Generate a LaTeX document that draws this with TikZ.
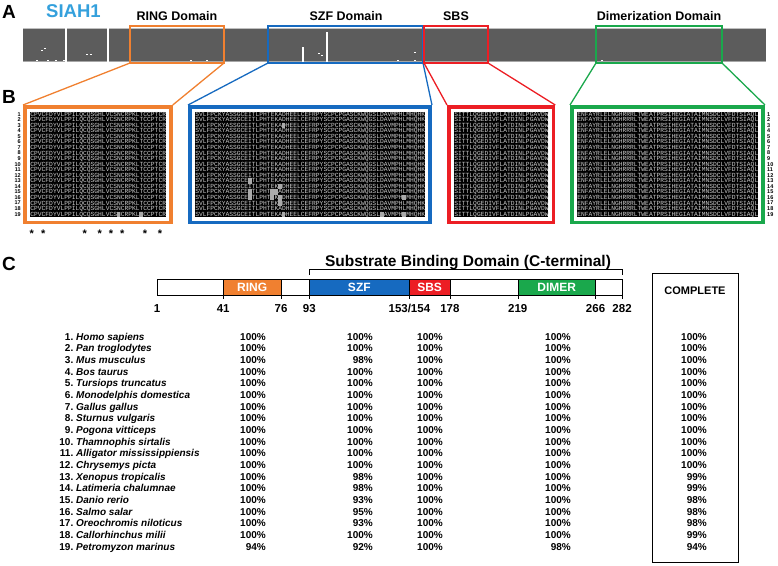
\documentclass[tikz,border=0pt]{standalone}
\usepackage{fontspec}
\setmainfont{Liberation Sans}
\newfontfamily\seqfont{Liberation Mono}
\definecolor{ringcol}{RGB}{240,128,48}
\definecolor{szfcol}{RGB}{22,106,192}
\definecolor{sbscol}{RGB}{236,30,36}
\definecolor{dimercol}{RGB}{26,168,76}
\definecolor{siahcol}{RGB}{52,160,220}
\definecolor{barcol}{RGB}{92,92,92}
\definecolor{seqcol}{RGB}{205,205,205}
\definecolor{hlcol}{RGB}{170,170,170}
\begin{document}
\begin{tikzpicture}[x=1pt, y=-1pt,
   panel/.style={font=\fontsize{19}{19}\selectfont\bfseries, inner sep=0, anchor=base west},
   domlabel/.style={font=\fontsize{12.5}{12.5}\selectfont\bfseries, inner sep=0, anchor=base},
   seqtxt/.style={font=\seqfont\fontsize{6.28}{6}\selectfont, text=seqcol, inner sep=0, anchor=base west},
   rownum/.style={font=\fontsize{5.5}{5.5}\selectfont\bfseries, inner sep=0},
   barlabel/.style={font=\fontsize{12}{12}\selectfont\bfseries, text=white, inner sep=0, anchor=base},
   ticklabel/.style={font=\fontsize{11.5}{11.5}\selectfont\bfseries, inner sep=0, anchor=base},
   tabtxt/.style={font=\fontsize{10}{10}\selectfont\bfseries, inner sep=0},
   spname/.style={font=\fontsize{10}{10}\selectfont\bfseries\itshape, inner sep=0, anchor=base west},
   pct/.style={tabtxt, anchor=base east}]
   \useasboundingbox (0,0) rectangle (778,565);

   % A: full length alignment strip
   \node[panel] (lblA) at (2,18) {A};
   \node[panel, text=siahcol, font=\fontsize{18.5}{18.5}\selectfont\bfseries] (siah) at (46,17) {SIAH1};
   \fill[barcol] (23,28) rectangle (766,62);
   \draw[gray!50] (23,28.5) -- (766,28.5);
   \draw[gray!70] (23,61.5) -- (766,61.5);
   \foreach \x/\ya/\yb in {66/28/62, 108/28/62, 303/47/62, 327/32/62} {
      \draw[white, line width=1.2pt] (\x,\ya) -- (\x,\yb);
   }
   \foreach \x/\y in {41/51, 44/49, 86/55, 90/55, 318/54, 321/56, 36/61, 47/61, 55/61, 63/61, 190/61, 206/61, 397/61, 414/53, 414/61, 601/61} {
      \fill[white] (\x,\y) rectangle +(2,-1.5);
   }
   \node[domlabel] (tRING) at (177,20) {RING Domain};
   \node[domlabel] (tSZF) at (346,20) {SZF Domain};
   \node[domlabel] (tSBS) at (456,20) {SBS};
   \node[domlabel] (tDIM) at (659,20) {Dimerization Domain};

   % B: zoomed alignment blocks
   \node[panel] (lblB) at (2,103) {B};
   \foreach \bx/\col/\al/\ar/\xl/\nc/\seq in {
      ring/ringcol/130/224/23/36/CPVCFDYVLPPILQCQSGHLVCSNCRPKLTCCPTCR,
      szf/szfcol/268/423/188/61/SVLFPCKYASSGCEITLPHTEKADHEELCEFRPYSCPCPGASCKWQGSLDAVMPHLMHQHK,
      sbs/sbscol/424/488/447/25/SITTLQGEDIVFLATDINLPGAVDW,
      dim/dimercol/596/722/570/48/ENFAYRLELNGHRRRLTWEATPRSIHEGIATAIMNSDCLVFDTSIAQL} {
      \pgfmathsetmacro\xr{\xl+14+\nc*3.77}
      \draw[\col, line width=1.3pt] (\al,26) rectangle (\ar,63);
      \coordinate (\bx-abl) at (\al,63);
      \coordinate (\bx-abr) at (\ar,63);
      \coordinate (\bx-btl) at (\xl,105);
      \coordinate (\bx-btr) at (\xr,105);
      \draw[\col, line width=1.3pt] (\bx-abl) -- (\bx-btl) (\bx-abr) -- (\bx-btr);
      \draw[\col, line width=3.5pt] (\xl+1.75,106.75) rectangle (\xr-1.75,222.25);
      \fill[black] (\xl+7,111.5) rectangle (\xr-7,216.5);
      \foreach \i in {1,...,19} {
         \node[seqtxt] (\bx-s\i) at (\xl+7.2, {114+(\i-1)*5.556+2.2}) {\seq};
      }
   }
   % variable positions
   \foreach \xl/\r/\k in {23/19/24, 23/19/30, 188/3/24, 188/13/15, 188/14/23, 188/15/15,
      188/15/21, 188/15/22, 188/16/15, 188/16/21, 188/16/23, 188/17/23, 188/19/24,
      188/19/50, 188/19/56, 188/16/56} {
      \fill[hlcol] ({\xl+7+(\k-1)*3.77}, {111.5+(\r-1)*5.556}) rectangle +(3.77,5.556);
   }
   \foreach \i in {1,...,19} {
      \node[rownum, anchor=base east] (ln\i) at (21, {114+(\i-1)*5.556+2}) {\i};
      \node[rownum, anchor=base west] (rn\i) at (767, {114+(\i-1)*5.556+2}) {\i};
   }
   \foreach \k in {1,4,15,19,22,25,31,35} {
      \node[font=\fontsize{11}{11}\selectfont\bfseries, inner sep=0, anchor=base] (ast\k) at ({30+(\k-0.5)*3.77},237.5) {*};
   }

   % C: domain map and conservation table
   \node[panel] (lblC) at (2,270) {C};
   \draw (157,279) rectangle (622,295);
   \foreach \name/\col/\from/\to/\lbl in {ring/ringcol/41/76/RING, szf/szfcol/93/153.5/SZF,
      sbs/sbscol/153.5/178/SBS, dimer/dimercol/219/266/DIMER} {
      \draw[fill=\col] ({157+(\from-1)*1.655},279) rectangle ({157+(\to-1)*1.655},295);
      \node[barlabel] (bar-\name) at ({157+((\from+\to)/2-1)*1.655},291.7) {\lbl};
   }
   \node[ticklabel] (tk1) at (157,312) {1};
   \foreach \r/\t in {41/41, 76/76, 93/93, 153.5/{153/154}, 178/178, 219/219, 266/266, 282/282} {
      \draw ({157+(\r-1)*1.655},295) -- ++(0,4);
      \node[ticklabel] (tk\r) at ({157+(\r-1)*1.655},312) {\t};
   }
   \draw (309.3,275) -- (309.3,269) -- (622,269) -- (622,275);
   \node[font=\fontsize{15.5}{15.5}\selectfont\bfseries, inner sep=0, anchor=base] (sbd) at (468,266) {Substrate Binding Domain (C-terminal)};
   \draw[line width=1pt] (652,273) rectangle (738,562);
   \node[font=\fontsize{11}{11}\selectfont\bfseries, inner sep=0, anchor=base] (complete) at (695,294) {COMPLETE};

   \foreach \sp/\a/\b/\c/\d/\e [count=\i] in {
      Homo sapiens/100/100/100/100/100,
      Pan troglodytes/100/100/100/100/100,
      Mus musculus/100/98/100/100/100,
      Bos taurus/100/100/100/100/100,
      Tursiops truncatus/100/100/100/100/100,
      Monodelphis domestica/100/100/100/100/100,
      Gallus gallus/100/100/100/100/100,
      Sturnus vulgaris/100/100/100/100/100,
      Pogona vitticeps/100/100/100/100/100,
      Thamnophis sirtalis/100/100/100/100/100,
      Alligator mississippiensis/100/100/100/100/100,
      Chrysemys picta/100/100/100/100/100,
      Xenopus tropicalis/100/98/100/100/99,
      Latimeria chalumnae/100/98/100/100/99,
      Danio rerio/100/93/100/100/98,
      Salmo salar/100/95/100/100/98,
      Oreochromis niloticus/100/93/100/100/98,
      Callorhinchus milii/100/100/100/100/99,
      Petromyzon marinus/94/92/100/98/94} {
      \pgfmathsetmacro\yb{340+(\i-1)*11.67}
      \node[pct] (num\i) at (73.5,\yb) {\i.};
      \node[spname] (sp\i) at (76,\yb) {\sp};
      \node[pct] (pring\i) at (266,\yb) {\a\%};
      \node[pct] (pszf\i) at (373,\yb) {\b\%};
      \node[pct] (psbs\i) at (443,\yb) {\c\%};
      \node[pct] (pdim\i) at (571,\yb) {\d\%};
      \node[pct] (pall\i) at (707,\yb) {\e\%};
   }
\end{tikzpicture}
\end{document}
